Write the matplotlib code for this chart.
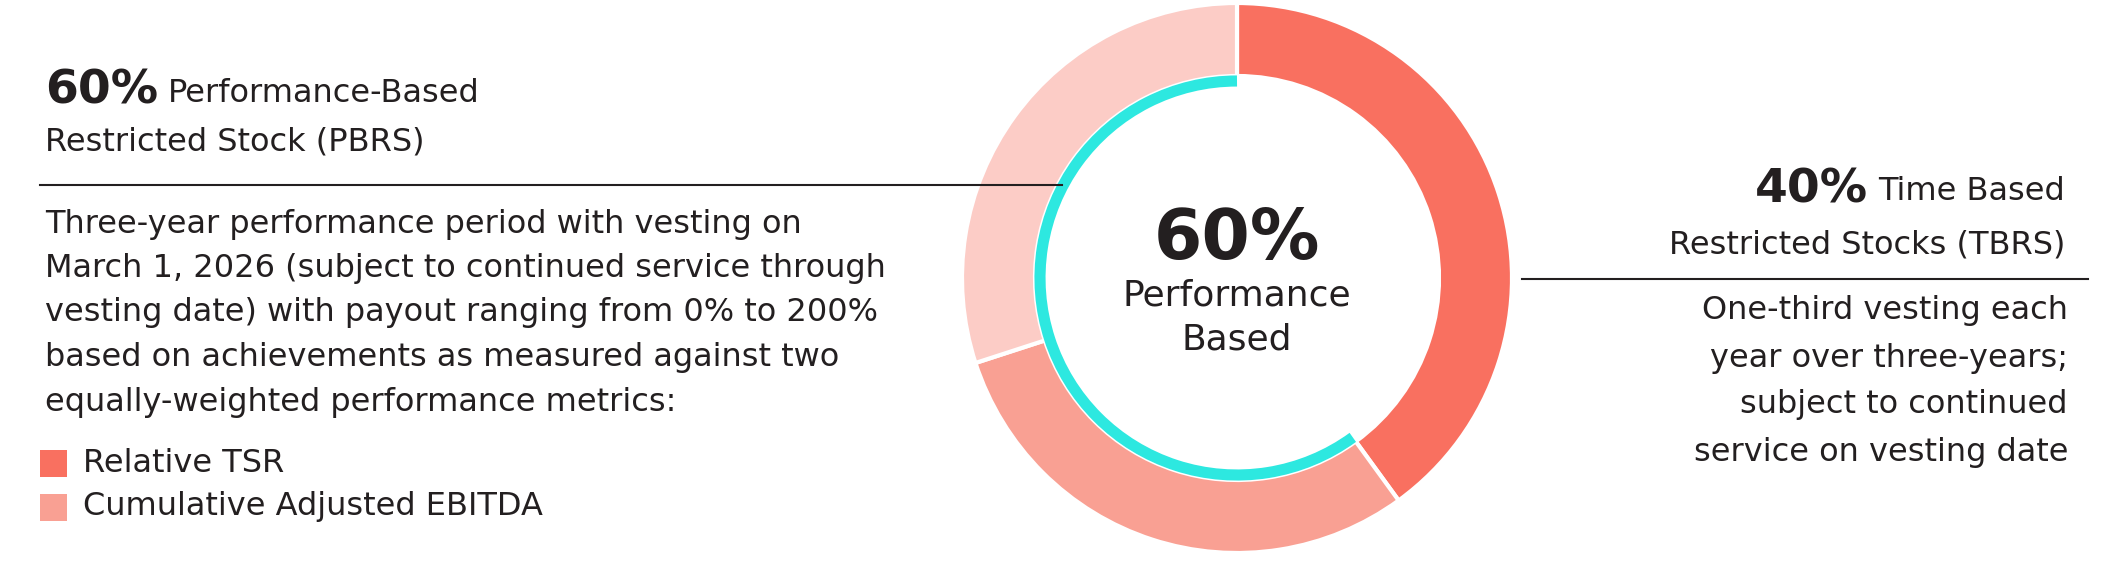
import matplotlib
matplotlib.use('Agg')
import matplotlib.pyplot as plt
from matplotlib.patches import Wedge, Arc, Rectangle

plt.rcParams['font.family'] = ['DejaVu Sans']

shares = [40, 30, 30]
seg_colors = ['#F97060', '#F9A093', '#FCCCC6']
performance_share = 60
legend_labels = ['Relative TSR', 'Cumulative Adjusted EBITDA']
legend_colors = ['#F97060', '#F9A093']
pbrs_body = ['Three-year performance period with vesting on',
             'March 1, 2026 (subject to continued service through',
             'vesting date) with payout ranging from 0% to 200%',
             'based on achievements as measured against two',
             'equally-weighted performance metrics:']
tbrs_body = ['One-third vesting each', 'year over three-years;',
             'subject to continued', 'service on vesting date']
TXT = '#231F20'
FS = 23

W, H = 2103, 563
fig = plt.figure(figsize=(W / 100, H / 100), dpi=100)
ax = fig.add_axes([0, 0, 1, 1])
ax.set_xlim(0, W)
ax.set_ylim(H, 0)
ax.set_aspect('equal')
ax.axis('off')

cx, cy, r_out, width = 1237, 278, 275, 73
# y axis inverted: negate angles so segments run clockwise from top
start = 90
for s, c in zip(shares, seg_colors):
    span = s / 100 * 360
    a1, a2 = start - span, start
    ax.add_patch(Wedge((cx, cy), r_out, -a2, -a1, width=width,
                       facecolor=c, edgecolor='white', linewidth=3))
    start = a1

span = performance_share / 100 * 360
ax.add_patch(Arc((cx, cy), 2 * 197, 2 * 197, theta1=-90 - span, theta2=-90,
                 color='#2DE8E0', linewidth=8, capstyle='butt'))

ax.text(cx, 239, f'{performance_share}%', ha='center', va='center',
        fontsize=50, fontweight='bold', color=TXT)
ax.text(cx, 295, 'Performance', ha='center', va='center', fontsize=26, color=TXT)
ax.text(cx, 339, 'Based', ha='center', va='center', fontsize=26, color=TXT)

# left block
ax.text(45, 91, '60%', ha='left', va='center', fontsize=34, fontweight='bold', color=TXT)
ax.text(168, 93, 'Performance-Based', ha='left', va='center', fontsize=FS, color=TXT)
ax.text(45, 142, 'Restricted Stock (PBRS)', ha='left', va='center', fontsize=FS, color=TXT)
ax.plot([40, 1062], [185, 185], color=TXT, linewidth=1.5)
for i, line in enumerate(pbrs_body):
    ax.text(45, 224 + i * 44.5, line, ha='left', va='center', fontsize=FS, color=TXT)
for i, (lab, c) in enumerate(zip(legend_labels, legend_colors)):
    y = 463 + i * 44
    ax.add_patch(Rectangle((40, y - 13), 27, 27, facecolor=c, edgecolor='none'))
    ax.text(83, y, lab, ha='left', va='center', fontsize=FS, color=TXT)

# right block
ax.text(2065, 192, 'Time Based', ha='right', va='center', fontsize=FS, color=TXT)
ax.text(1868, 190, '40%', ha='right', va='center', fontsize=34, fontweight='bold', color=TXT)
ax.text(2065, 245, 'Restricted Stocks (TBRS)', ha='right', va='center', fontsize=FS, color=TXT)
ax.plot([1522, 2088], [279, 279], color=TXT, linewidth=1.5)
for i, line in enumerate(tbrs_body):
    ax.text(2068, 311 + i * 47, line, ha='right', va='center', fontsize=FS, color=TXT)

fig.savefig('out.png', dpi=100)
